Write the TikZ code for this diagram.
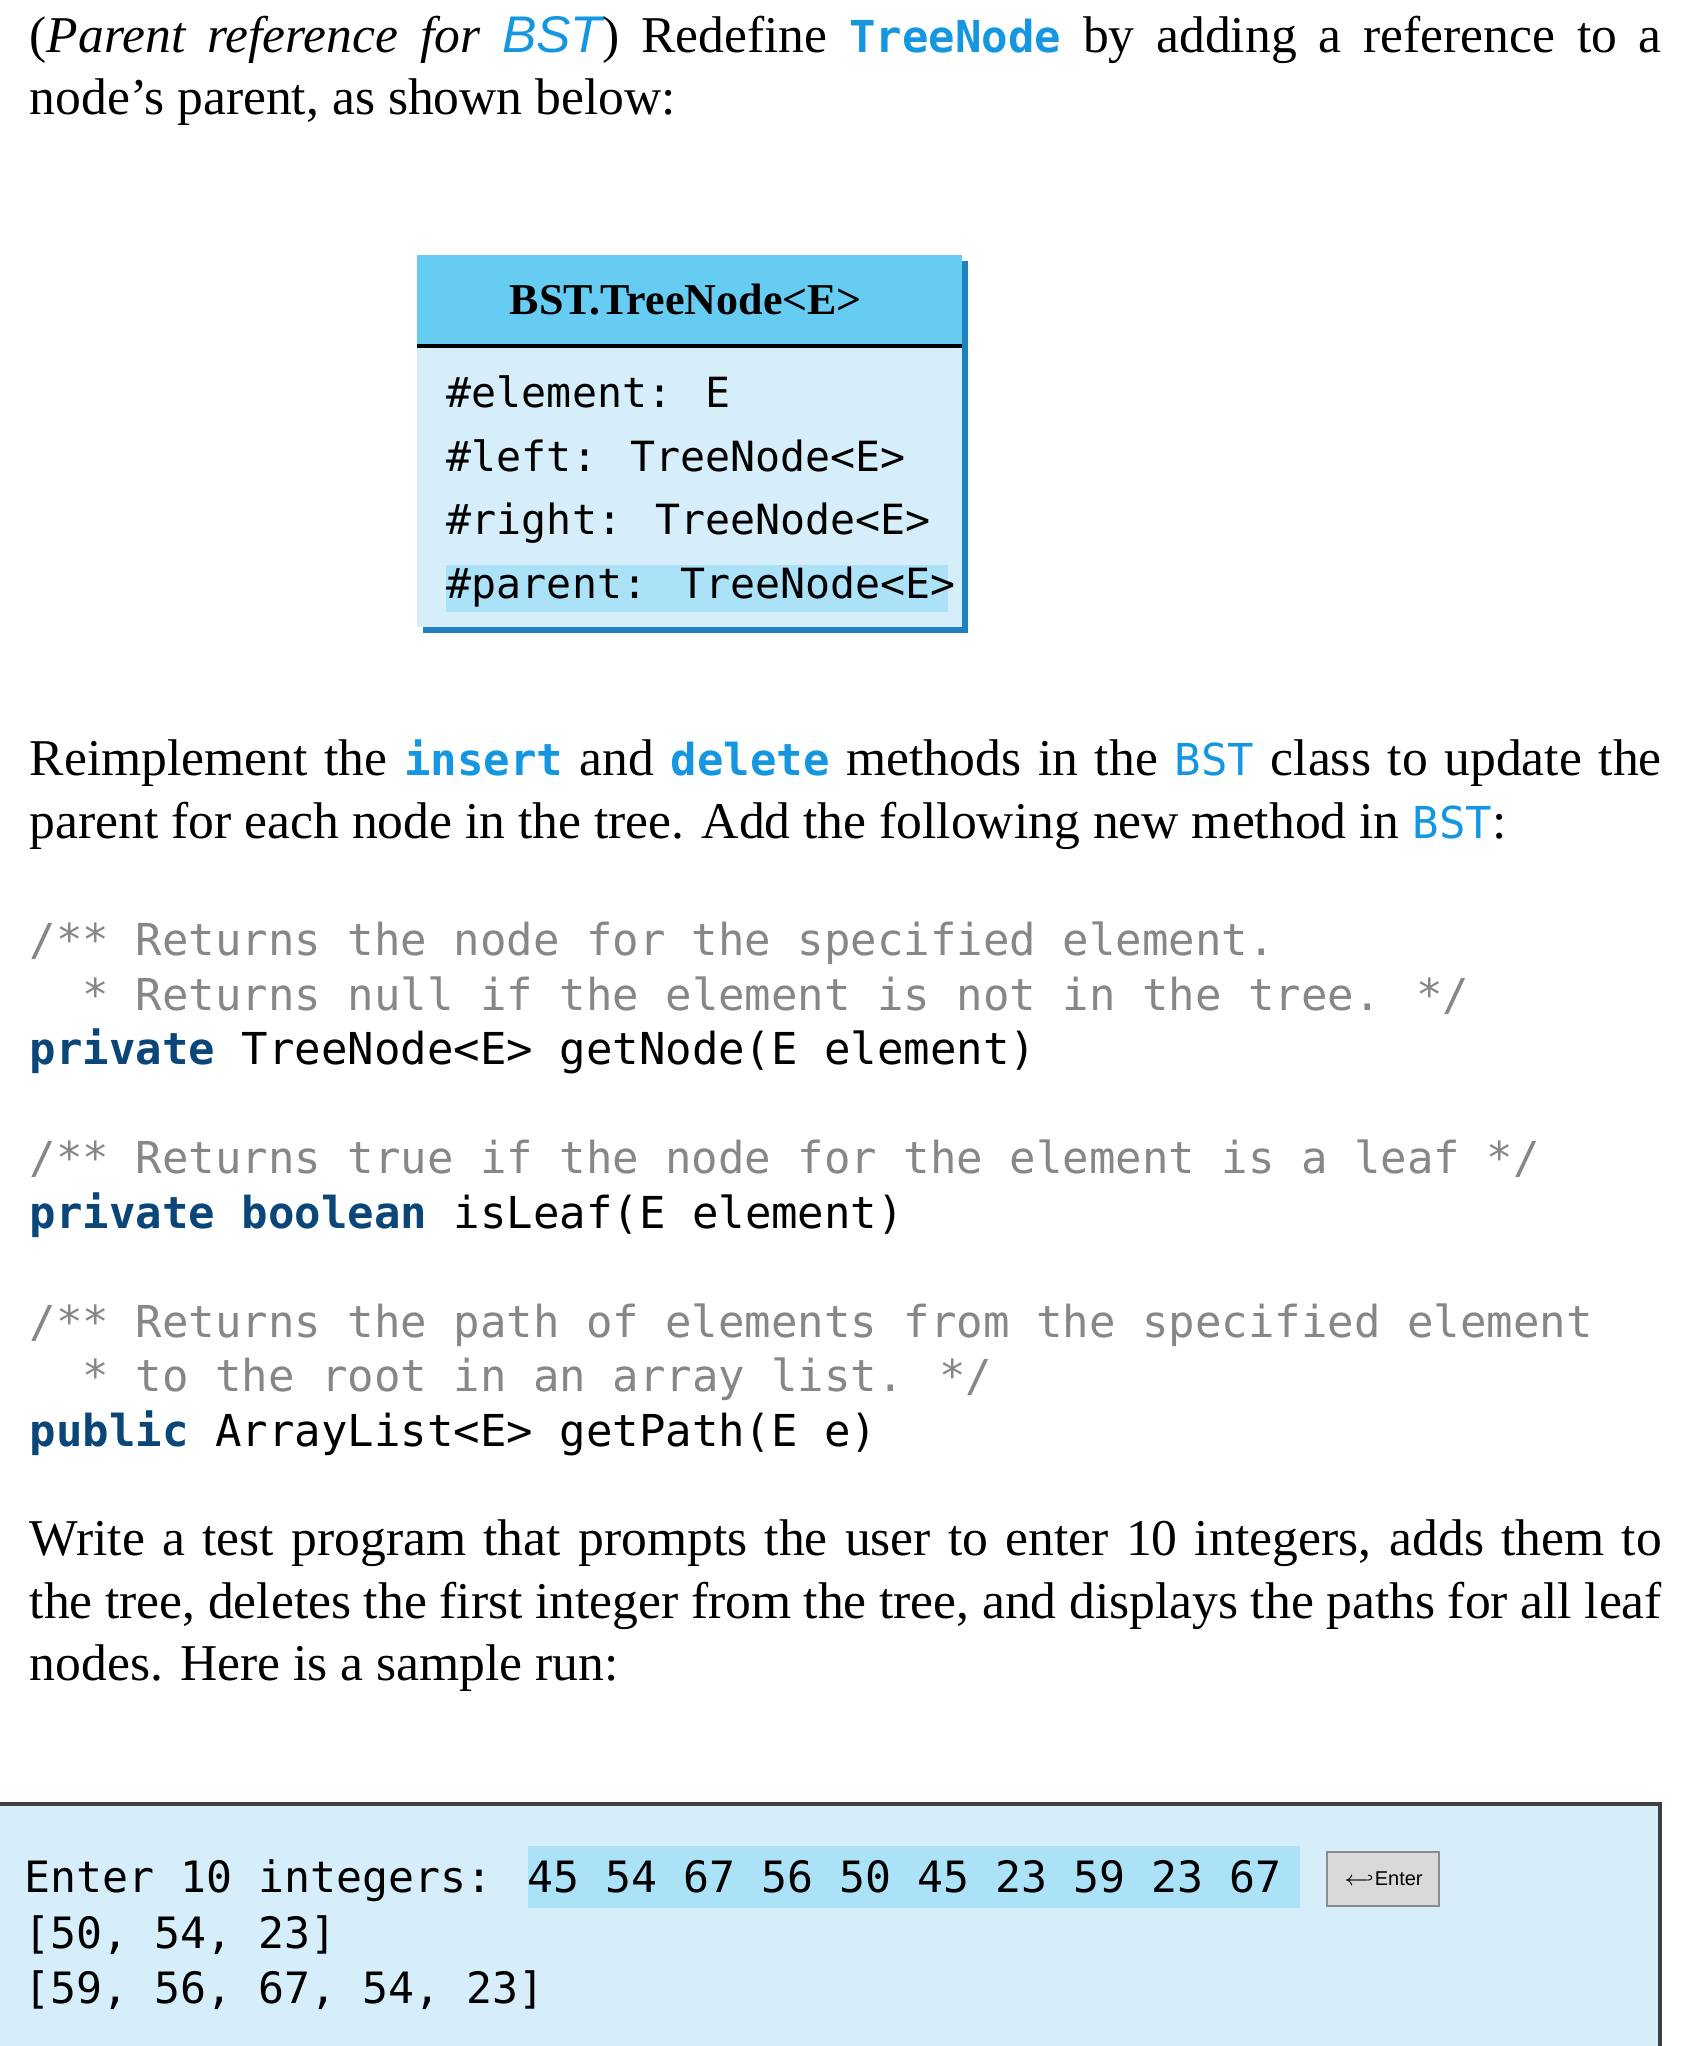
\documentclass[tikz,border=0pt]{standalone}
\usepackage{fontspec}
\setmainfont{Liberation Serif}
\setsansfont{Liberation Sans}
\setmonofont{DejaVu Sans Mono}
\newfontfamily\consolefont{DejaVu Sans Mono}
\definecolor{bl}{RGB}{20,150,225}
\definecolor{hdr}{RGB}{102,204,242}
\definecolor{bdy}{RGB}{214,238,250}
\definecolor{hil}{RGB}{172,226,248}
\definecolor{shd}{RGB}{30,130,190}
\definecolor{cmt}{RGB}{135,135,135}
\definecolor{kw}{RGB}{10,70,120}
\newcommand{\bw}[1]{\textcolor{bl}{\fontsize{11}{13}\ttfamily\bfseries #1}}
\newcommand{\bs}[1]{\textcolor{bl}{\fontsize{11}{13}\ttfamily #1}}
\newcommand{\jl}[1]{\hbox to 408pt{#1}}
\begin{document}
\begin{tikzpicture}[x=0.25pt,y=-0.25pt,
  txt/.style={anchor=base west,inner sep=0,font=\fontsize{12.9}{15.5}\selectfont},
  attr/.style={anchor=base west,inner sep=0,font=\fontsize{10.4}{12}\ttfamily},
  code/.style={anchor=base west,inner sep=0,font=\fontsize{11}{13}\ttfamily},
  cons/.style={anchor=base west,inner sep=0,font=\fontsize{10.8}{13}\consolefont}]
\useasboundingbox (0,0) rectangle (1688,2046);
% paragraph 1
\node[txt] (p1a) at (29,52) {\jl{(\textit{Parent reference for \textcolor{bl}{\sffamily BST}}) Redefine \bw{TreeNode} by adding a reference to a}};
\node[txt] (p1b) at (29,114) {node's parent, as shown below:};
% UML box
\fill[shd] (423,261) rectangle (968,633);
\fill[hdr] (417,255) rectangle (962,346);
\fill[bdy] (417,346) rectangle (962,627);
\draw[line width=1.2pt] (417,346) -- (962,346);
\fill[hil] (446,565) rectangle (948,612);
\node[font=\fontsize{11}{13}\selectfont\bfseries] (hd) at (686,300) {BST.TreeNode<E>};
\node[attr] (a1) at (446,407) {\#element: E};
\node[attr] (a2) at (446,471) {\#left: TreeNode<E>};
\node[attr] (a3) at (446,534) {\#right: TreeNode<E>};
\node[attr] (a4) at (446,598) {\#parent: TreeNode<E>};
% paragraph 2
\node[txt] (p2a) at (29,775) {\jl{Reimplement the \bw{insert} and \bw{delete} methods in the \bs{BST} class to update the}};
\node[txt] (p2b) at (29,838) {parent for each node in the tree. Add the following new method in \bs{BST}:};
% code
\node[code,text=cmt] (c1) at (29,955) {/** Returns the node for the specified element.};
\node[code,text=cmt] (c2) at (29,1010) {~~* Returns null if the element is not in the tree. */};
\node[code] (c3) at (29,1064) {\textcolor{kw}{\bfseries private} TreeNode<E> getNode(E element)};
\node[code,text=cmt] (c4) at (29,1173) {/** Returns true if the node for the element is a leaf */};
\node[code] (c5) at (29,1228) {\textcolor{kw}{\bfseries private boolean} isLeaf(E element)};
\node[code,text=cmt] (c6) at (29,1337) {/** Returns the path of elements from the specified element};
\node[code,text=cmt] (c7) at (29,1391) {~~* to the root in an array list. */};
\node[code] (c8) at (29,1446) {\textcolor{kw}{\bfseries public} ArrayList<E> getPath(E e)};
% paragraph 3
\node[txt] (p3a) at (29,1555) {\jl{Write a test program that prompts the user to enter 10 integers, adds them to}};
\node[txt] (p3b) at (29,1618) {\jl{the tree, deletes the first integer from the tree, and displays the paths for all leaf}};
\node[txt] (p3c) at (29,1680) {nodes. Here is a sample run:};
% console
\fill[bdy] (0,1804) rectangle (1660,2046);
\draw[line width=0.8pt,black!75] (0,1804) -- (1660,1804) -- (1660,2046);
\fill[hil] (528,1846) rectangle (1300,1908);
\node[draw=black!45,fill=black!15,inner sep=0,minimum width=28pt,minimum height=13.5pt,font=\fontsize{5}{6}\sffamily] (ent) at (1383,1879) {$\hookleftarrow$Enter};
\node[cons] (l1) at (24,1892) {Enter 10 integers: 45 54 67 56 50 45 23 59 23 67};
\node[cons] (l2) at (24,1948) {[50, 54, 23]};
\node[cons] (l3) at (24,2003) {[59, 56, 67, 54, 23]};
\end{tikzpicture}
\end{document}
